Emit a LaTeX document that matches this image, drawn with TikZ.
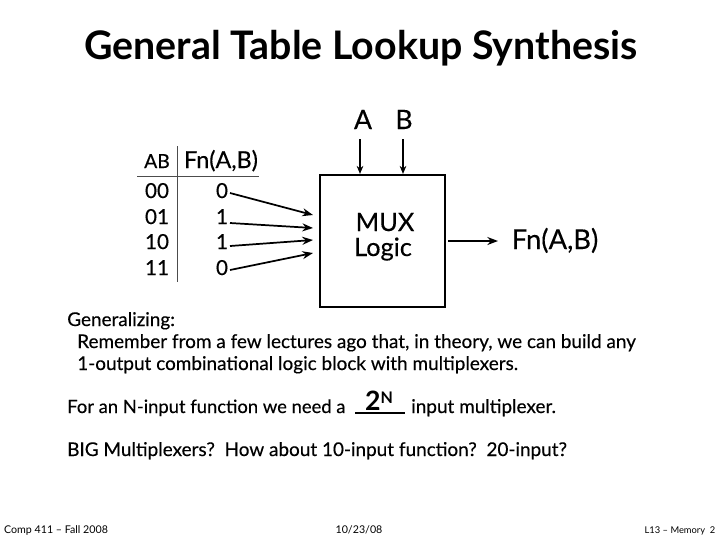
\documentclass[tikz,border=0pt]{standalone}
\usepackage{fontspec}
\setmainfont{Lato}
\newfontfamily\medium[FakeBold=0.3]{Lato}
\usetikzlibrary{arrows.meta}
\tikzset{
 lbl/.style={inner sep=0pt,anchor=base west,text=black},
 mid/.style={inner sep=0pt,anchor=base,text=black},
 body/.style={lbl,font=\medium\fontsize{14.2}{16}\selectfont},
 small/.style={inner sep=0pt,anchor=base,font=\fontsize{8}{9}\selectfont},
 tab/.style={mid,font=\medium\fontsize{15.5}{17}\selectfont},
 big/.style={mid,font=\medium\fontsize{19}{22}\selectfont},
 conn/.style={line width=1.3pt,-{Stealth[length=8pt,width=6pt]}},
 thin conn/.style={line width=0.8pt,-{Stealth[length=6pt,width=5pt]}},
 rule/.style={line width=0.7pt,black!70},
 boxs/.style={draw,line width=1.7pt,inner sep=0pt}
}
\begin{document}
\begin{tikzpicture}[x=0.75pt,y=-0.75pt]
\useasboundingbox (0,0) rectangle (720,540);
\node[mid,font=\fontsize{29.5}{32}\selectfont\bfseries] (title) at (361,59) {General Table Lookup Synthesis};
% box
\node[boxs,minimum width=93.75pt,minimum height=99pt] (mux) at (382.5,241) {};
\node[big] (mt1) at (385,231) {MUX};
\node[big] (mt2) at (383,256) {Logic};
\node[big,font=\medium\fontsize{20}{22}\selectfont] (a) at (363,129) {A};
\node[big,font=\medium\fontsize{20}{22}\selectfont] (b) at (404,129) {B};
\coordinate (as) at (360,139);
\coordinate (bs) at (403,139);
\draw[thin conn] (as) -- (as |- mux.north);
\draw[thin conn] (bs) -- (bs |- mux.north);
% output
\node[big,font=\medium\fontsize{20.5}{22}\selectfont] (fn) at (555,249) {Fn(A,B)};
\coordinate (oe) at (498,241);
\draw[conn,line width=1.2pt] (mux.east |- oe) ++(2,0) -- (oe);
% table
\node[tab,font=\medium\fontsize{14.5}{16}\selectfont] (hab) at (157,168) {AB};
\node[tab,font=\medium\fontsize{17.5}{19}\selectfont] (hfn) at (221,168) {Fn(A,B)};
\node[tab] (r1a) at (157,198) {00};
\node[tab] (r2a) at (157,224) {01};
\node[tab] (r3a) at (157,249) {10};
\node[tab] (r4a) at (157,275) {11};
\node[tab] (r1b) at (222,198) {0};
\node[tab] (r2b) at (222,224) {1};
\node[tab] (r3b) at (222,249) {1};
\node[tab] (r4b) at (222,275) {0};
\coordinate (h1) at (137,176);
\coordinate (h2) at (259,176);
\coordinate (v1) at (177,146);
\coordinate (v2) at (177,282);
\draw[rule] (h1) -- (h2);
\draw[rule] (v1) -- (v2);
\coordinate (s1) at (230,193);
\coordinate (s2) at (230,223);
\coordinate (s3) at (230,246);
\coordinate (s4) at (230,270);
\coordinate (i1) at (313,215);
\coordinate (i2) at (313,228);
\coordinate (i3) at (313,240);
\coordinate (i4) at (313,253);
\draw[conn] (s1) -- (i1);
\draw[conn] (s2) -- (i2);
\draw[conn] (s3) -- (i3);
\draw[conn] (s4) -- (i4);
% text
\node[body] (t1) at (67,326) {Generalizing:};
\node[body] (t2) at (77,348) {Remember from a few lectures ago that, in theory, we can build any};
\node[body] (t3) at (77,370) {1-output combinational logic block with multiplexers.};
\node[body,font=\medium\fontsize{13.8}{16}\selectfont] (t4) at (67,413) {For an N-input function we need a};
\node[mid,font=\fontsize{20}{22}\selectfont\bfseries] (two) at (379,410) {2\raisebox{0.45ex}{\fontsize{12}{14}\selectfont N}};
\coordinate (u1) at (355,413);
\coordinate (u2) at (405,413);
\draw[line width=1pt] (u1) -- (u2);
\node[body] (t5) at (411,413) {input multiplexer.};
\node[body] (t6) at (67,456) {BIG Multiplexers?\ \ How about 10-input function?\ \ 20-input?};
% footer
\node[small] (f1) at (56,533) {Comp 411 -- Fall 2008};
\node[small] (f2) at (359,533) {10/23/08};
\node[small,font=\fontsize{7}{8}\selectfont] (f3) at (680,533) {L13 -- Memory\ \ 2};
\end{tikzpicture}
\end{document}
